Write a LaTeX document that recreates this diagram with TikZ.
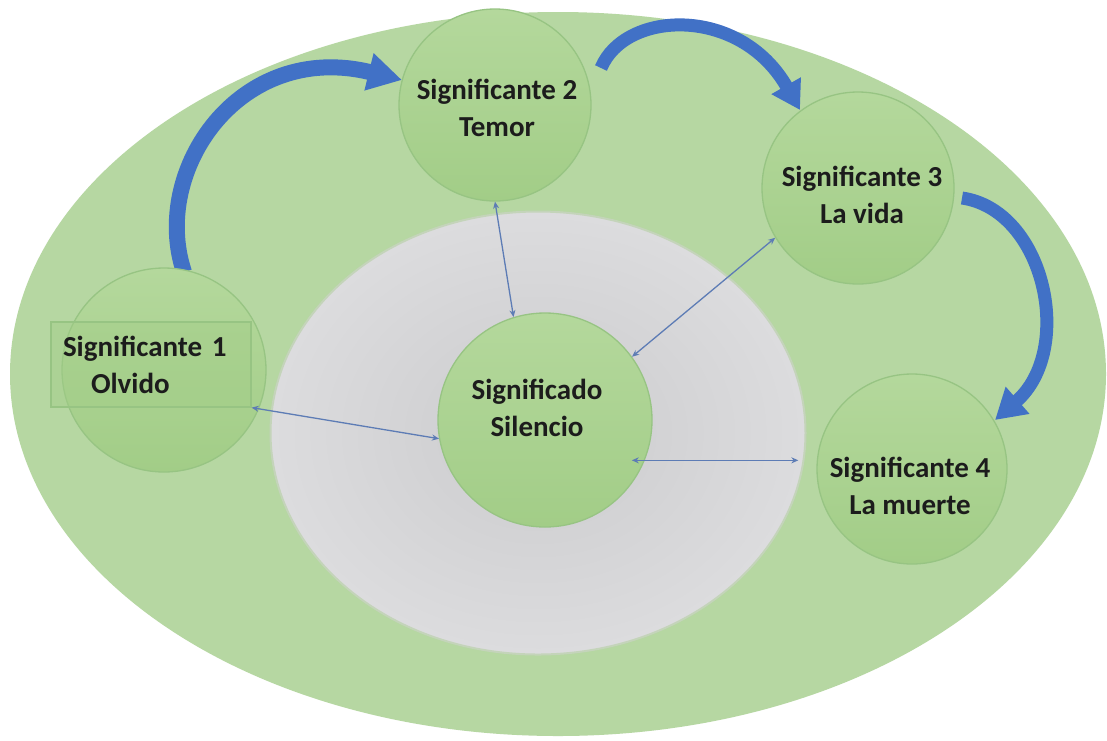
\documentclass[tikz,border=0pt]{standalone}
\usepackage{fontspec}
\setmainfont{Carlito}
\usetikzlibrary{arrows.meta,calc,shapes.geometric}
\definecolor{outerg}{HTML}{B6D7A2}
\definecolor{circtop}{HTML}{B4D89C}
\definecolor{circbot}{HTML}{A2CD87}
\definecolor{circline}{HTML}{97C483}
\definecolor{grayin}{HTML}{CBCBCD}
\definecolor{grayout}{HTML}{DCDCDE}
\definecolor{grayline}{HTML}{C4D4BA}
\definecolor{bluearr}{HTML}{4171C6}
\definecolor{connc}{HTML}{5D7CB5}
\definecolor{txtc}{HTML}{1C1C1C}
\begin{document}
\begin{tikzpicture}[x=1pt,y=-1pt,
  sigcircle/.style={circle,draw=circline,line width=1.3pt,top color=circtop,bottom color=circbot,minimum size=192pt,inner sep=0pt},
  lbl/.style={align=center,text=txtc,font=\fontsize{29}{37}\selectfont\bfseries,inner sep=0pt},
  bluearrow/.style={draw=bluearr,line width=#1,-{Triangle[width=36pt,length=34pt]}},
  conn/.style={draw=connc,line width=1.3pt,{Stealth[length=7pt,width=6pt]}-{Stealth[length=7pt,width=6pt]}}
]
\useasboundingbox (0,0) rectangle (1107,740);
\fill[white] (0,0) rectangle (1107,740);
% outer ellipse
\node[ellipse,fill=outerg,minimum width=1096pt,minimum height=724pt,inner sep=0pt] (outer) at (558,374) {};
% gray ellipse
\node[ellipse,draw=grayline,line width=2pt,inner color=grayin,outer color=grayout,minimum width=535pt,minimum height=443pt,inner sep=0pt] (inner) at (538,433) {};
% blue curved arrows
\draw[bluearrow=16pt] (184,272) .. controls (150,170) and (240,40) .. (402,80);
\draw[bluearrow=13pt, -{Triangle[width=32pt,length=28pt]}] (601,68) .. controls (625,10) and (740,5) .. (800,110);
\draw[bluearrow=13pt, -{Triangle[width=34pt,length=30pt]}] (962,198) .. controls (1045,210) and (1075,350) .. (995,420);
% circles
\node[sigcircle,minimum size=204pt] (s1) at (164,370) {};
\node[sigcircle] (s2) at (495,105) {};
\node[sigcircle] (s3) at (858,188) {};
\node[sigcircle,minimum size=214pt] (sig) at (545,420) {};
\node[sigcircle,minimum size=190pt] (s4) at (912,469) {};
% box of significante 1
\node[draw=circline,line width=1.2pt,fill=circbot,fill opacity=0.45,text opacity=1,text=txtc,
      font=\fontsize{29}{37}\selectfont\bfseries,align=left,text width=176pt,
      minimum width=200pt,minimum height=85pt,inner xsep=12pt,inner ysep=0pt] (s1box) at (151,364.5)
      {Significante 1\\\hspace*{28pt}Olvido};
% texts
\node[lbl] (t2) at (497,108) {Significante 2\\Temor};
\node[lbl] (t3) at (862,195) {Significante 3\\La vida};
\node[lbl] (tsig) at (537,408) {Significado\\Silencio};
\node[lbl] (t4) at (910,486) {Significante 4\\La muerte};
% connectors
\draw[conn] (s2.south) -- (sig.107);
\draw[conn] (s3.211) -- (sig.36);
\draw[conn] (s1box.south east) -- (sig.190);
\draw[conn] ([xshift=-13pt]sig.-22) -- ($(sig.-22 -| s4.west)+(-18,0)$);
\end{tikzpicture}
\end{document}
